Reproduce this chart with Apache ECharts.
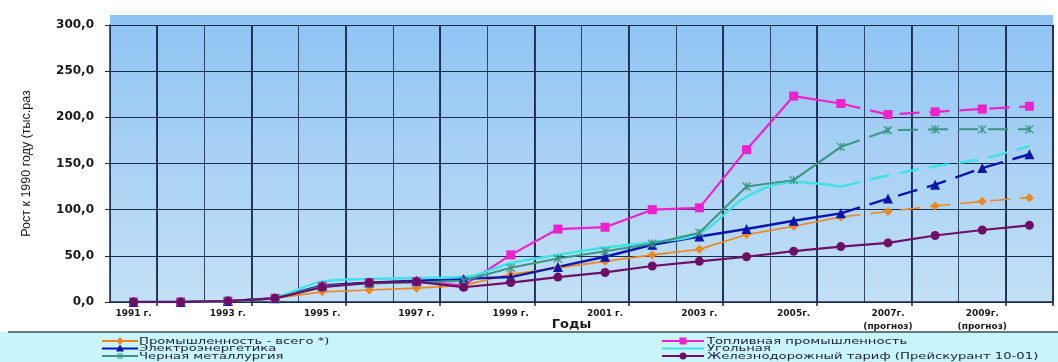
<!DOCTYPE html>
<html>
<head>
<meta charset="utf-8">
<title>Рост тарифов и цен к 1990 году</title>
<script src="https://cdn.jsdelivr.net/npm/echarts@6/dist/echarts.min.js"></script>
<style>
  html, body { margin: 0; padding: 0; background: #ffffff; }
  #chart { width: 1058px; height: 362px; }
</style>
</head>
<body>
<div id="chart"></div>
<script>
// Years on the category axis
const categories = ['1991', '1992', '1993', '1994', '1995', '1996', '1997', '1998', '1999', '2000',
                    '2001', '2002', '2003', '2004', '2005', '2006', '2007', '2008', '2009', '2010'];
// Labels shown under every second year
const tickLabels = ['1991 г.', '1993 г.', '1995 г.', '1997 г.', '1999 г.', '2001 г.', '2003 г.',
                    '2005г.', '2007г.\n(прогноз)', '2009г.\n(прогноз)'];
const yTickValues = [0, 50, 100, 150, 200, 250, 300];

// Growth relative to 1990 (thousand times)
const industryTotal = [0, 0, 1, 4, 11, 13, 15, 18, 30, 37, 44, 51, 57, 73, 82, 92, 98, 104, 109, 113];
const fuelIndustry  = [0, 0, 1, 4, 17, 21, 22, 18, 51, 79, 81, 100, 102, 165, 223, 215, 203, 206, 209, 212];
const powerIndustry = [0, 0, 1, 4, 18, 21, 23, 25, 27, 38, 49, 62, 71, 79, 88, 96, 112, 127, 145, 160];
const coalIndustry  = [0, 0, 1, 5, 22, 25, 26, 27, 42, 51, 59, 65, 74, 114, 130, 125, 137, 147, 155, 169];
const ferrousMetals = [0, 0, 1, 4, 17, 20, 21, 23, 37, 47, 55, 63, 75, 125, 132, 168, 186, 187, 187, 187];
const railTariff    = [0, 0, 1, 4, 16, 21, 22, 16, 21, 27, 32, 39, 44, 49, 55, 60, 64, 72, 78, 83];

// Forecast part (dashed) starts from this year index
const forecastFrom = 15;

const STAR = 'path://M0,0L10,10M10,0L0,10M5,0L5,10';

// Series definitions in drawing order; legend column / row for each
const seriesDefs = [
  { name: 'Промышленность - всего *)', data: industryTotal, color: '#f0861e', width: 1.6,
    symbol: 'diamond', size: 9, dashed: true, col: 0, row: 0 },
  { name: 'Топливная промышленность', data: fuelIndustry, color: '#ee22cc', width: 2.2,
    symbol: 'rect', size: 9, dashed: true, col: 1, row: 0 },
  { name: 'Электроэнергетика', data: powerIndustry, color: '#0c16ac', width: 2.4,
    symbol: 'triangle', size: 10, dashed: true, col: 0, row: 1 },
  { name: 'Угольная', data: coalIndustry, color: '#3fe2e6', width: 2.4,
    symbol: 'none', size: 0, dashed: true, smooth: 0.35, col: 1, row: 1 },
  { name: 'Черная металлургия', data: ferrousMetals, color: '#3a9682', width: 2,
    symbol: STAR, size: 8, stroke: true, dashed: true, col: 0, row: 2 },
  { name: 'Железнодорожный тариф (Прейскурант 10-01)', data: railTariff, color: '#6e0f66', width: 2.2,
    symbol: 'circle', size: 9, dashed: false, col: 1, row: 2 }
];

function itemStyleOf(d) {
  return d.stroke
    ? { color: 'transparent', borderColor: d.color, borderWidth: 1.3 }
    : { color: d.color };
}

const series = [];
seriesDefs.forEach(d => {
  const base = {
    type: 'line',
    xAxisIndex: 0,
    symbol: d.symbol,
    symbolSize: d.size,
    smooth: d.smooth || false,
    itemStyle: itemStyleOf(d),
    lineStyle: { color: d.color, width: d.width },
    emphasis: { disabled: true },
    animation: false
  };
  if (!d.dashed) {
    series.push(Object.assign({}, base, { name: d.name, data: d.data }));
    return;
  }
  series.push(Object.assign({}, base, {
    name: d.name,
    data: d.data.map((v, i) => (i <= forecastFrom ? v : null))
  }));
  series.push(Object.assign({}, base, {
    name: d.name + ' (прогноз)',
    data: d.data.map((v, i) => {
      if (i < forecastFrom) return null;
      if (i === forecastFrom) return { value: v, symbol: 'none' };
      return v;
    }),
    lineStyle: { color: d.color, width: d.width, type: [20, 10] }
  }));
});

// Plot area geometry
const plotLeft = 110, plotRight = 1053, plotTop = 25, plotBottom = 302;

// Legend drawn as graphic items beneath the chart
const legendCols = [{ lineX: 102, lineW: 36, textX: 139 }, { lineX: 662, lineW: 42, textX: 707 }];
const legendRows = [341, 348.5, 356];
const legendGraphics = [];
seriesDefs.forEach(d => {
  const c = legendCols[d.col];
  const y = legendRows[d.row];
  legendGraphics.push({
    type: 'line', silent: true, z: 5,
    shape: { x1: c.lineX, y1: y, x2: c.lineX + c.lineW, y2: y },
    style: { stroke: d.color, lineWidth: 2 }
  });
  if (d.symbol !== 'none') {
    const cx = c.lineX + c.lineW / 2;
    if (d.symbol === 'rect') {
      legendGraphics.push({ type: 'rect', silent: true, z: 6,
        shape: { x: cx - 3.5, y: y - 3.5, width: 7, height: 7 }, style: { fill: d.color } });
    } else if (d.symbol === 'circle') {
      legendGraphics.push({ type: 'circle', silent: true, z: 6,
        shape: { cx: cx, cy: y, r: 3.5 }, style: { fill: d.color } });
    } else if (d.symbol === 'triangle') {
      legendGraphics.push({ type: 'polygon', silent: true, z: 6,
        shape: { points: [[cx, y - 4], [cx + 4, y + 3], [cx - 4, y + 3]] }, style: { fill: d.color } });
    } else if (d.symbol === 'diamond') {
      legendGraphics.push({ type: 'polygon', silent: true, z: 6,
        shape: { points: [[cx, y - 4], [cx + 3.5, y], [cx, y + 4], [cx - 3.5, y]] }, style: { fill: d.color } });
    } else {
      legendGraphics.push({ type: 'polyline', silent: true, z: 6,
        shape: { points: [[cx - 3, y - 3], [cx + 3, y + 3]] }, style: { stroke: d.color, lineWidth: 1 } });
      legendGraphics.push({ type: 'polyline', silent: true, z: 6,
        shape: { points: [[cx + 3, y - 3], [cx - 3, y + 3]] }, style: { stroke: d.color, lineWidth: 1 } });
      legendGraphics.push({ type: 'polyline', silent: true, z: 6,
        shape: { points: [[cx, y - 3.5], [cx, y + 3.5]] }, style: { stroke: d.color, lineWidth: 1 } });
    }
  }
  legendGraphics.push({
    type: 'text', silent: true, z: 6,
    x: c.textX, y: y + 0.5, scaleX: 1.55,
    style: {
      text: d.name, fill: '#1c1c3a',
      font: '8.5px "DejaVu Sans"',
      verticalAlign: 'middle', align: 'left'
    }
  });
});

const gridColor = '#1b2b4e';

const option = {
  backgroundColor: '#ffffff',
  animation: false,
  grid: {
    left: plotLeft, right: 1058 - plotRight, top: plotTop, bottom: 362 - plotBottom,
    show: false
  },
  xAxis: [
    {
      type: 'category',
      data: categories,
      boundaryGap: true,
      name: 'Годы',
      nameLocation: 'middle',
      nameGap: 16,
      nameMoveOverlap: false,
      nameTextStyle: {
        fontFamily: 'DejaVu Sans', fontWeight: 'bold', fontSize: 13, color: '#1a1a1a',
        verticalAlign: 'top', padding: [0, 20, 0, 0]
      },
      axisLine: { show: true, lineStyle: { color: gridColor, width: 1.5 } },
      axisTick: { show: false },
      axisLabel: {
        interval: 0,
        margin: 5,
        fontFamily: 'DejaVu Sans', fontWeight: 'bold', fontSize: 9, color: '#1a1a1a',
        lineHeight: 13,
        formatter: (value, index) => (index % 2 === 0 ? tickLabels[index / 2] : '')
      },
      splitLine: { show: true, interval: 0, lineStyle: { color: gridColor, width: 1, opacity: 0.85 } }
    },
    {
      // heavier lines between every second pair of years
      type: 'category',
      data: categories,
      boundaryGap: true,
      position: 'bottom',
      axisLine: { show: false },
      axisLabel: { show: false },
      axisTick: {
        show: true, length: 4, interval: (i) => i % 2 === 1,
        lineStyle: { color: gridColor, width: 1.5 }
      },
      splitLine: {
        show: true, interval: (i) => i % 2 === 1,
        lineStyle: { color: gridColor, width: 1.8 }
      }
    }
  ],
  yAxis: {
    type: 'value',
    min: yTickValues[0],
    max: yTickValues[yTickValues.length - 1],
    interval: 50,
    name: 'Рост к 1990 году (тыс.раз',
    nameLocation: 'middle',
    nameGap: 77,
    nameMoveOverlap: false,
    nameTextStyle: { fontFamily: 'Liberation Sans', fontSize: 12.5, color: '#1a1a1a' },
    axisLine: { show: true, lineStyle: { color: gridColor, width: 1.5 } },
    axisTick: { show: true, length: 5, lineStyle: { color: gridColor, width: 1 } },
    axisLabel: {
      margin: 16,
      fontFamily: 'DejaVu Sans', fontWeight: 'bold', fontSize: 12, color: '#1a1a1a',
      formatter: (v) => v.toFixed(1).replace('.', ',')
    },
    splitLine: { show: true, lineStyle: { color: gridColor, width: 1.2 } }
  },
  graphic: {
    elements: [
      {
        type: 'rect', silent: true, z: -10,
        shape: { x: plotLeft, y: 15, width: plotRight - plotLeft, height: plotBottom - 15 },
        style: {
          fill: {
            type: 'linear', x: 0, y: 0, x2: 0, y2: 1,
            colorStops: [
              { offset: 0, color: '#8ec3f3' },
              { offset: 1, color: '#c3e0f6' }
            ]
          }
        }
      },
      {
        type: 'rect', silent: true, z: -10,
        shape: { x: 0, y: 332, width: 1058, height: 30 },
        style: { fill: '#c9f4fb' }
      },
      {
        type: 'line', silent: true, z: 4,
        shape: { x1: 8, y1: 332, x2: 1058, y2: 332 },
        style: { stroke: '#34505a', lineWidth: 1.5 }
      }
    ].concat(legendGraphics)
  },
  series: series
};

const chart = echarts.init(document.getElementById('chart'), null, { renderer: 'canvas' });
chart.setOption(option);
</script>
</body>
</html>
